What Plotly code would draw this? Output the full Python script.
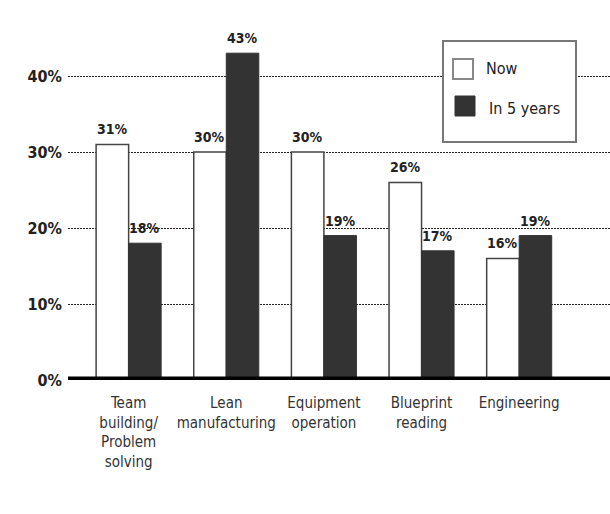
import plotly.graph_objects as go

categories = ["Team<br>building/<br>Problem<br>solving", "Lean<br>manufacturing",
              "Equipment<br>operation", "Blueprint<br>reading", "Engineering"]
now_values = [31, 30, 30, 26, 16]
future_values = [18, 43, 19, 17, 19]
series_names = ["Now", "In 5 years"]
y_ticks = [0, 10, 20, 30, 40]
y_tick_labels = ["0%", "10%", "20%", "30%", "40%"]

FONT = "Liberation Sans Narrow, DejaVu Sans Condensed, Arial Narrow, sans-serif"
NOW_FILL, NOW_EDGE = "white", "#444444"
FUT_FILL, FUT_EDGE = "#333333", "#333333"

# plot area in pixels, used to place the hand-drawn legend
L, R, T, B = 68, 0, 0, 134
W, H = 610, 514
PW, PH = W - L - R, H - T - B


def px(x):
    return (x - L) / PW


def py(y):
    return (H - B - y) / PH


fig = go.Figure()
fig.add_trace(go.Bar(
    name=series_names[0], x=categories, y=now_values,
    marker=dict(color=NOW_FILL, line=dict(color=NOW_EDGE, width=1.5)),
    showlegend=False,
))
fig.add_trace(go.Bar(
    name=series_names[1], x=categories, y=future_values,
    marker=dict(color=FUT_FILL, line=dict(color=FUT_EDGE, width=1)),
    showlegend=False,
))

# value labels above each bar
half = 16.3
for cat, v in zip(categories, now_values):
    fig.add_annotation(x=cat, y=v, xref="x", yref="y", xshift=-half, yshift=5,
                       yanchor="bottom", showarrow=False, text=f"<b>{v}%</b>",
                       font=dict(family=FONT, size=14, color="#222"))
for cat, v in zip(categories, future_values):
    fig.add_annotation(x=cat, y=v, xref="x", yref="y", xshift=half, yshift=5,
                       yanchor="bottom", showarrow=False, text=f"<b>{v}%</b>",
                       font=dict(family=FONT, size=14, color="#222"))

# thick baseline
fig.add_shape(type="line", xref="paper", yref="y", x0=0, x1=1, y0=0, y1=0,
              line=dict(color="black", width=7), layer="above")

# legend box
fig.add_shape(type="rect", xref="paper", yref="paper",
              x0=px(443), x1=px(576), y0=py(142), y1=py(41),
              fillcolor="white", line=dict(color="#777", width=2), layer="above")
fig.add_shape(type="rect", xref="paper", yref="paper",
              x0=px(453), x1=px(473), y0=py(79), y1=py(59),
              fillcolor=NOW_FILL, line=dict(color="#888", width=2), layer="above")
fig.add_shape(type="rect", xref="paper", yref="paper",
              x0=px(455), x1=px(475), y0=py(116), y1=py(96),
              fillcolor=FUT_FILL, line=dict(color="#333", width=1), layer="above")
fig.add_annotation(x=px(484), y=py(68), xref="paper", yref="paper", xanchor="left",
                   yanchor="middle", showarrow=False, text=series_names[0],
                   font=dict(family=FONT, size=16, color="#222"))
fig.add_annotation(x=px(487), y=py(108), xref="paper", yref="paper", xanchor="left",
                   yanchor="middle", showarrow=False, text=series_names[1],
                   font=dict(family=FONT, size=16, color="#222"))

fig.update_layout(
    width=W, height=H,
    margin=dict(l=L, r=R, t=T, b=B),
    paper_bgcolor="white", plot_bgcolor="white",
    barmode="group", bargap=0.334, bargroupgap=0,
    font=dict(family=FONT, color="#333"),
    showlegend=False,
    xaxis=dict(
        range=[-0.621, 4.93], showgrid=False, showline=False, ticks="",
        tickfont=dict(family=FONT, size=15, color="#333"), tickangle=0,
        ticklabelstandoff=12,
    ),
    yaxis=dict(
        range=[0, 50], tickvals=y_ticks, ticktext=[f"<b>{t}</b>" for t in y_tick_labels],
        showgrid=True, gridcolor="#222", griddash="2px,1px", gridwidth=1,
        zeroline=False, showline=False, ticks="",
        tickfont=dict(family=FONT, size=16, color="#222"),
        ticklabelstandoff=5,
    ),
)

fig.write_html("out.html")
